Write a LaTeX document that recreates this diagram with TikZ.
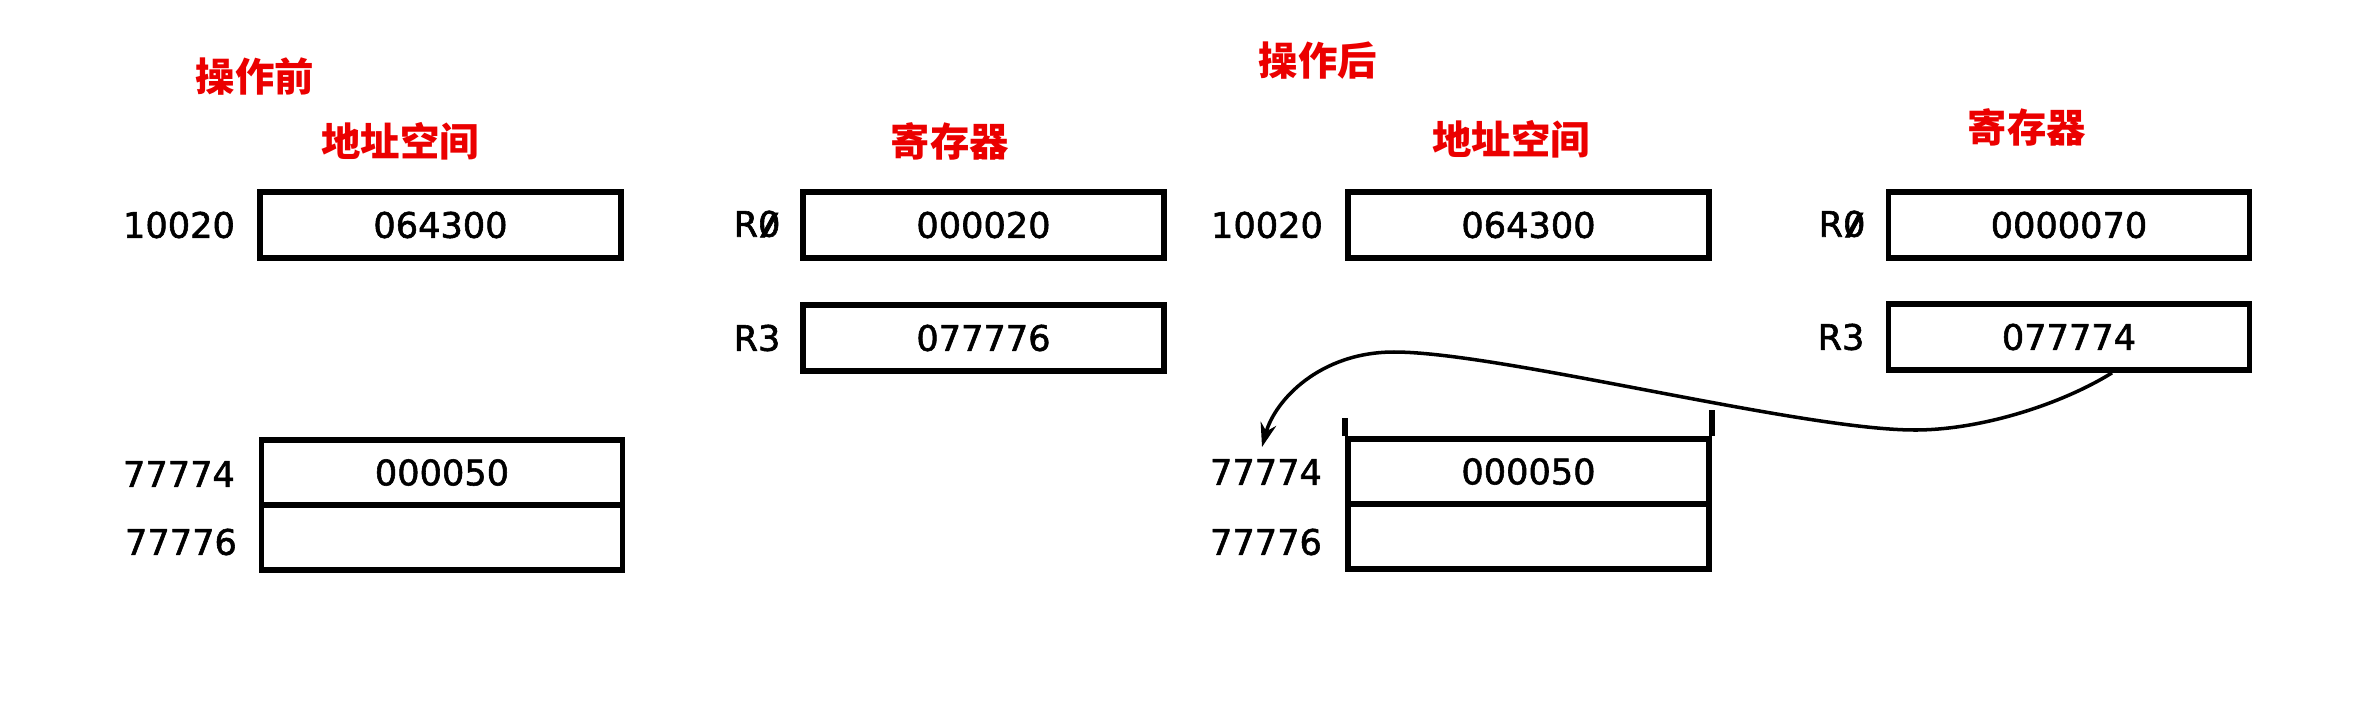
\documentclass[tikz,border=0pt]{standalone}
\usepackage{fontspec}
\setmainfont{DejaVu Sans}
\newfontface\digfont{DejaVu Sans}[RawFeature={embolden=1.6}]
\newfontfamily\cjk{Noto Sans CJK SC}
\usetikzlibrary{arrows.meta}
\definecolor{hdred}{RGB}{235,0,0}
\newcommand{\dig}{\digfont\fontsize{10}{12}\selectfont}
\newcommand{\slz}{\ooalign{0\cr\hidewidth\raisebox{0.06em}{\scalebox{1.5}[0.85]{/}}\hidewidth\cr}}
\tikzset{
  cell/.style={draw, line width=1.6pt, minimum width=3.61cm, minimum height=0.66cm, inner sep=0pt, font=\dig},
  lowcell/.style={cell, minimum height=0.65cm},
  addr/.style={font=\dig, inner sep=0pt},
  head/.style={font=\cjk\bfseries\fontsize{11.2}{13}\selectfont, text=hdred, inner sep=0pt},
  ptr/.style={line width=1pt, -{Stealth[length=0.24cm,width=0.16cm]}},
  ext/.style={line width=1.6pt}
}
\begin{document}
\begin{tikzpicture}[x=0.01cm,y=-0.01cm]
\useasboundingbox (0,0) rectangle (2354,724);
% headings
\node[head] (hb)  at (255,77)  {操作前};
\node[head] (ha)  at (1318,61) {操作后};
\node[head] (asb) at (400,141) {地址空间};
\node[head] (rgb) at (950,141) {寄存器};
\node[head] (asa) at (1511,139) {地址空间};
\node[head] (rga) at (2027,127) {寄存器};
% before: address space
\node[cell] (mb1) at (440.5,225) {064300};
\node[addr] (lb1) at (179,225) {10020};
\node[lowcell] (mb2a) at (442,472.5) {000050};
\node[lowcell] (mb2b) at (442,537.5) {};
\node[addr] (lb2a) at (179,474) {77774};
\node[addr] (lb2b) at (181,542) {77776};
% before: registers
\node[cell] (rb0) at (983.5,225) {000020};
\node[cell] (rb3) at (983.5,338) {077776};
\node[addr] (lr0b) at (757,224) {R\slz};
\node[addr] (lr3b) at (757,338) {R3};
% after: address space
\node[cell] (ma1) at (1528.5,225) {064300};
\node[addr] (la1) at (1267,225) {10020};
\node[lowcell] (ma2a) at (1528.5,471.5) {000050};
\node[lowcell] (ma2b) at (1528.5,536.5) {};
\node[addr] (la2a) at (1266,472) {77774};
\node[addr] (la2b) at (1266,542) {77776};
\draw[ext] (ma2a.north west) -- ++(0,-18);
\draw[ext] (ma2a.north east) -- ++(0,-26);
% after: registers
\node[cell] (ra0) at (2069,225) {0000070};
\node[cell] (ra3) at (2069,337) {077774};
\node[addr] (lr0a) at (1842,224) {R\slz};
\node[addr] (lr3a) at (1841,337) {R3};
% pointer
\coordinate (tip) at (1262,447);
\draw[ptr] ([xshift=0.43cm]ra3.south) .. controls (2060,405) and (1980,430) .. (1915,430)
  .. controls (1800,430) and (1500,352) .. (1394,352)
  .. controls (1320,352) and (1275,400) .. (tip);
\end{tikzpicture}
\end{document}
